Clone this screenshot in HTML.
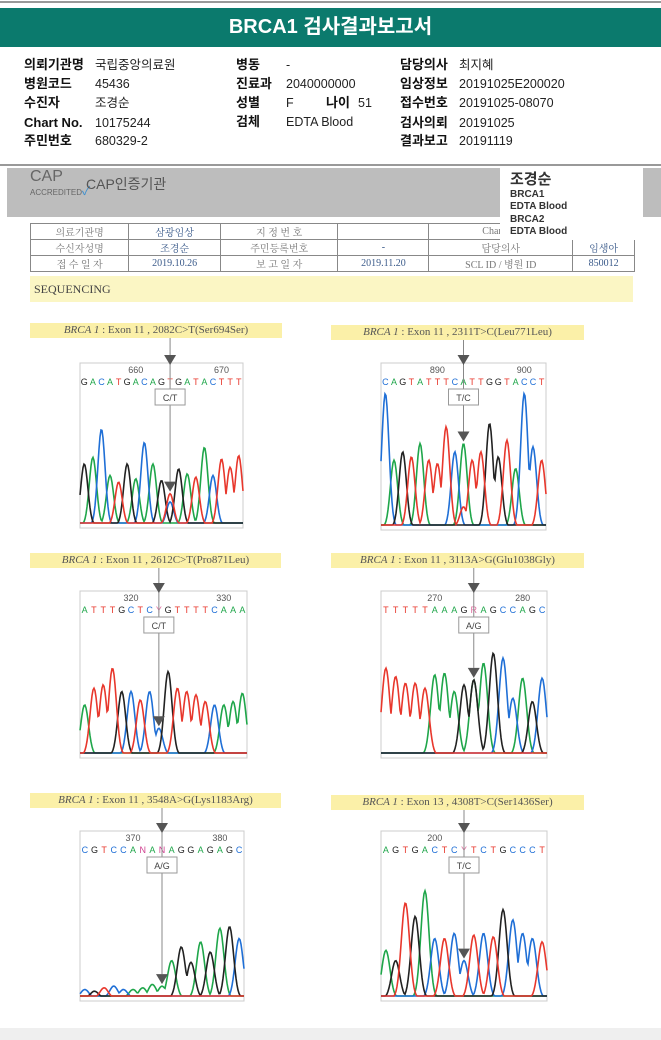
<!DOCTYPE html>
<html><head><meta charset="utf-8">
<style>
*{margin:0;padding:0;box-sizing:border-box}
body{width:661px;height:1040px;position:relative;background:#fff;font-family:"Liberation Sans","Noto Sans CJK KR",sans-serif;overflow:hidden}
.abs{position:absolute}
.info span{position:absolute;font-size:12.5px;color:#222;white-space:nowrap;line-height:16px}
.info b{position:absolute;font-size:13px;color:#111;font-weight:bold;white-space:nowrap;line-height:16px}
.lbl{position:absolute;background:#fbf0a8;font-family:"Liberation Serif","Noto Serif CJK SC",serif;font-size:11px;color:#555;text-align:center;line-height:15px;height:15px}
.lbl i{font-style:italic}
td{border:1px solid #888;font-family:"Liberation Serif","Noto Serif CJK SC",serif;font-size:10px;color:#777;text-align:center;height:14px}
td.v{color:#3a5a8a}
</style></head><body>
<div class="abs" style="left:0;top:1px;width:661px;height:2px;background:#999"></div>
<div class="abs" style="left:0;top:8px;width:661px;height:39px;background:#0b7a6d;color:#fff;font-weight:bold;font-size:20px;text-align:center;line-height:39px">BRCA1 검사결과보고서</div>
<div class="info">
<b style="left:24px;top:57px">의뢰기관명</b><span style="left:95px;top:57px">국립중앙의료원</span>
<b style="left:24px;top:76px">병원코드</b><span style="left:95px;top:76px">45436</span>
<b style="left:24px;top:95px">수진자</b><span style="left:95px;top:95px">조경순</span>
<b style="left:24px;top:115px">Chart No.</b><span style="left:95px;top:115px">10175244</span>
<b style="left:24px;top:133px">주민번호</b><span style="left:95px;top:133px">680329-2</span>
<b style="left:236px;top:57px">병동</b><span style="left:286px;top:57px">-</span>
<b style="left:236px;top:76px">진료과</b><span style="left:286px;top:76px">2040000000</span>
<b style="left:236px;top:95px">성별</b><span style="left:286px;top:95px">F</span><b style="left:326px;top:95px">나이</b><span style="left:358px;top:95px">51</span>
<b style="left:236px;top:114px">검체</b><span style="left:286px;top:114px">EDTA Blood</span>
<b style="left:400px;top:57px">담당의사</b><span style="left:459px;top:57px">최지혜</span>
<b style="left:400px;top:76px">임상정보</b><span style="left:459px;top:76px">20191025E200020</span>
<b style="left:400px;top:95px">접수번호</b><span style="left:459px;top:95px">20191025-08070</span>
<b style="left:400px;top:115px">검사의뢰</b><span style="left:459px;top:115px">20191025</span>
<b style="left:400px;top:133px">결과보고</b><span style="left:459px;top:133px">20191119</span>
</div>
<div class="abs" style="left:0;top:164px;width:661px;height:2px;background:#999"></div>
<div class="abs" style="left:7px;top:168px;width:654px;height:49px;background:#bdbdbd"></div>
<div class="abs" style="left:30px;top:170px;font-size:16px;color:#666;line-height:14px">CAP<br><span style="font-size:8px">ACCREDITED</span><span style="color:#3a8ed0;font-size:12px">✓</span></div>
<div class="abs" style="left:86px;top:174px;font-size:14px;color:#555">CAP인증기관</div>
<table class="abs" style="left:30px;top:223px;width:605px;border-collapse:collapse;border:1.5px solid #555">
<tr><td>의료기관명</td><td class="v">삼광임상</td><td>지 정 번 호</td><td></td><td>Chart No</td><td></td></tr>
<tr><td>수신자성명</td><td class="v">조경순</td><td>주민등록번호</td><td class="v">-</td><td>담당의사</td><td class="v">임생아</td></tr>
<tr><td>접 수 일 자</td><td class="v">2019.10.26</td><td>보 고 일 자</td><td class="v">2019.11.20</td><td>SCL ID / 병원 ID</td><td class="v">850012</td></tr>
</table>
<div class="abs" style="left:500px;top:168px;width:143px;height:72px;background:#fff;padding:2px 0 0 10px;color:#333;font-weight:bold;line-height:11.5px;z-index:2">
<div style="font-size:15px;line-height:19px">조경순</div><div style="font-size:10px">BRCA1</div><div style="font-size:10px">EDTA Blood</div><div style="font-size:10px;margin-top:2px">BRCA2</div><div style="font-size:10px">EDTA Blood</div></div>
<div class="abs" style="left:30px;top:276px;width:603px;height:26px;background:#fbf6c4;font-family:'Liberation Serif',serif;font-size:12px;color:#444;line-height:26px;padding-left:4px">SEQUENCING</div>
<div class="abs" style="left:0;top:1028px;width:661px;height:12px;background:#efefef"></div>
<svg id="chrom" class="abs" style="left:0;top:0" width="661" height="1040"></svg>
<script>
const labels=["2082C>T(Ser694Ser)","2311T>C(Leu771Leu)","2612C>T(Pro871Leu)","3113A>G(Glu1038Gly)","3548A>G(Lys1183Arg)","4308T>C(Ser1436Ser)"];
const exons=["11","11","11","11","11","13"];
const calls=["C/T","T/C","C/T","A/G","A/G","T/C"];
const seqs=["GACATGACAGTGATACTTT","CAGTATTTCATTGGTACCT","ATTTGCTCYGTTTTCAAA","TTTTTAAAGRAGCCAGC","CGTCCANANAGGAGAGC","AGTGACTCYTCTGCCCT"];
const posLabels=[["660","670"],["890","900"],["320","330"],["270","280"],["370","380"],["200"]];
const h1=[.37,.41,.58,.30,.26,.37,.28,.5,.37,.27,.19,.34,.31,.29,.47,.3,.4,.35,.42];
const h2=[.8,.4,.45,.42,.5,.4,.38,.6,.45,.5,.4,.45,.62,.42,.52,.35,.8,.48,.4];
const h3=[.3,.4,.42,.52,.38,.38,.33,.38,.15,.5,.4,.38,.36,.32,.3,.3,.32,.37];
const h4=[.52,.47,.43,.43,.4,.48,.49,.38,.42,.45,.55,.61,.58,.34,.46,.32,.46];
const h5=[.05,.04,.06,.07,.05,.05,.06,.08,.07,.22,.3,.21,.33,.27,.41,.42,.35];
const h6=[.28,.22,.56,.48,.63,.35,.35,.38,.22,.37,.38,.36,.52,.46,.38,.35,.33];
const heights=[h1,h2,h3,h4,h5,h6];
const hetAlt=[{i:10,b:"C",h:.14},{i:9,b:"T",h:.12},{i:8,b:"C",h:.16},{i:9,b:"A",h:.45},{i:8,b:"A",h:.05},{i:8,b:"C",h:.2}];
const boxes=[[80,363,163,165,30,323,252],[381,363,165,167,331,325,253],[80,591,167,167,30,553,251],[381,591,166,167,331,553,253],[80,831,164,170,30,793,251],[381,831,166,170,331,795,253]];
const colors={A:"#1fa64a",C:"#1f6fd6",G:"#222",T:"#e8372c",Y:"#e070a0",R:"#e070a0",N:"#d04090"};
const NS="http://www.w3.org/2000/svg";
const svg=document.getElementById('chrom');
function mk(t,a,p){const e=document.createElementNS(NS,t);for(const k in a)e.setAttribute(k,a[k]);(p||svg).appendChild(e);return e;}
const hetBase={Y:["C","T"],R:["G","A"],N:["A","G"]};
boxes.forEach((b,pi)=>{
 const [x,y,w,h,lx,ly,lw]=b;
 const g=mk('g',{});
 
 
 const lb=document.createElement('div');lb.className='lbl';
 lb.style.left=lx+'px';lb.style.top=ly+'px';lb.style.width=lw+'px';
 lb.innerHTML='<i>BRCA 1</i> : Exon '+exons[pi]+' , '+labels[pi];
 
 
 document.body.appendChild(lb);
 mk('rect',{x:x,y:y,width:w,height:h,fill:'#fff',stroke:'#ccc','stroke-width':1},g);
 const seq=seqs[pi],n=seq.length,step=w/n;
 const xs=i=>x+step*(i+0.5);
 const base=y+h-3, yv=v=>base-v*h;
 const het=hetAlt[pi];
 posLabels[pi].forEach((t,k)=>{const idx=Math.round(n*(0.3+0.55*k));const tx=mk('text',{x:xs(Math.min(idx,n-1)),y:y+10,'font-size':9,fill:'#555','text-anchor':'middle','font-family':'Liberation Sans'},g);tx.textContent=t;});
 for(let i=0;i<n;i++){const tx=mk('text',{x:xs(i),y:y+22,'font-size':9,fill:colors[seq[i]],'text-anchor':'middle','font-family':'Liberation Sans'},g);tx.textContent=seq[i];}
 const traces={A:[],C:[],G:[],T:[]};
 for(let i=0;i<n;i++){let c=seq[i],hh=heights[pi][i];
  if(hetBase[c]){c=hetBase[c][0];}
  if(i===het.i){traces[het.b].push([i,het.h]);}
  if(traces[c])traces[c].push([i,hh]);}
 Object.keys(traces).forEach(c=>{
  let d='';const sig=step*0.42;
  for(let px=x;px<=x+w;px+=1){let v=0.012;traces[c].forEach(([i,hh])=>{const dx=px-xs(i);v=Math.max(v,hh*Math.exp(-dx*dx/(2*sig*sig)));});d+=(px===x?'M':'L')+px+','+yv(Math.min(v,0.95)).toFixed(1);}
  mk('path',{d:d,fill:'none',stroke:colors[c],'stroke-width':1.6},g);
 });
 const ax=xs(het.i);
 const pk=yv(Math.max(heights[pi][het.i],het.h));
 mk('line',{x1:ax,y1:ly+15,x2:ax,y2:pk-12,stroke:'#888','stroke-width':1},g);
 mk('path',{d:`M${ax-6},${y-8}L${ax+6},${y-8}L${ax},${y+2}Z`,fill:'#555'},g);
 const ty=pk-12;
 mk('path',{d:`M${ax-6},${ty}L${ax+6},${ty}L${ax},${ty+10}Z`,fill:'#555'},g);
 mk('rect',{x:ax-15,y:y+26,width:30,height:16,fill:'#fff',stroke:'#999'},g);
 const ct=mk('text',{x:ax,y:y+38,'font-size':9,fill:'#444','text-anchor':'middle','font-family':'Liberation Sans'},g);ct.textContent=calls[pi];
});
</script>
</body></html>
